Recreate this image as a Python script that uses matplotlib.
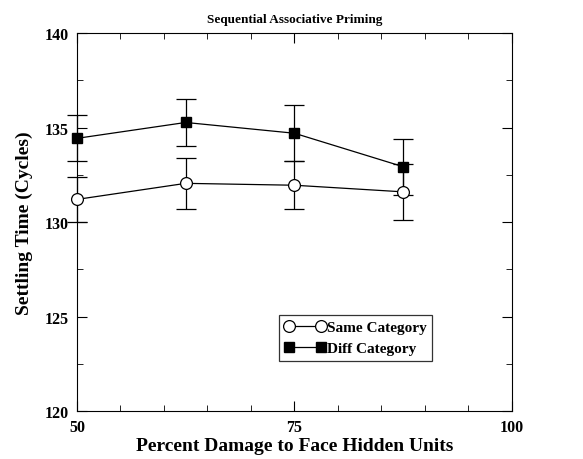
import numpy as np
import matplotlib
matplotlib.use('Agg')
import matplotlib.pyplot as plt
from matplotlib.ticker import MultipleLocator
from matplotlib.lines import Line2D

damage = [50, 62.5, 75, 87.5]
same_mean = [131.2, 132.05, 131.95, 131.6]
same_err = [1.2, 1.34, 1.26, 1.48]
diff_mean = [134.43, 135.27, 134.7, 132.93]
diff_err = [1.22, 1.25, 1.47, 1.48]
labels = ['Same Category', 'Diff Category']

plt.rcParams['font.family'] = ['Liberation Serif', 'DejaVu Serif']
plt.rcParams['font.weight'] = 'bold'

fig = plt.figure(figsize=(5.83, 4.6), dpi=100)
ax = fig.add_axes([0.132, 0.104, 0.746, 0.822])

ax.errorbar(damage, same_mean, yerr=same_err, color='black', lw=0.9,
            marker='o', ms=8.5, mfc='white', mec='black', mew=0.9,
            capsize=7.5, elinewidth=0.9, capthick=0.9, clip_on=False,
            zorder=3)
ax.errorbar(damage, diff_mean, yerr=diff_err, color='black', lw=0.9,
            marker='s', ms=7.5, mfc='black', mec='black',
            capsize=7.5, elinewidth=0.9, capthick=0.9, clip_on=False,
            zorder=3)

ax.set_xlim(50, 100)
ax.set_ylim(120, 140)
ax.set_xticks([50, 75, 100])
ax.set_yticks([120, 125, 130, 135, 140])
ax.xaxis.set_minor_locator(MultipleLocator(5))
ax.yaxis.set_minor_locator(MultipleLocator(2.5))
ax.tick_params(which='both', direction='in', top=True, right=True,
               labelsize=11.5, pad=6)
ax.tick_params(which='major', length=7)
ax.tick_params(which='minor', length=4)
for lbl in ax.get_xticklabels() + ax.get_yticklabels():
    lbl.set_fontweight('bold')

ax.set_title('Sequential Associative Priming', fontsize=9.5,
             fontweight='bold', pad=8)
ax.set_xlabel('Percent Damage to Face Hidden Units', fontsize=14,
              fontweight='bold', labelpad=1)
ax.set_ylabel('Settling Time (Cycles)', fontsize=14, fontweight='bold',
              labelpad=8)

# legend without the error bars
handles = [
    Line2D([], [], color='black', lw=0.9, marker='o', ms=8.5, mfc='white',
           mec='black', mew=0.9),
    Line2D([], [], color='black', lw=0.9, marker='s', ms=7.5, mfc='black',
           mec='black'),
]
leg = ax.legend(handles, labels, loc='upper right',
                bbox_to_anchor=(0.817, 0.254), numpoints=2,
                fancybox=False, edgecolor='black', handlelength=2.7,
                handletextpad=0.1, borderpad=0.35, labelspacing=0.5,
                borderaxespad=0, prop={'weight': 'bold', 'size': 11})
leg.get_frame().set_linewidth(0.9)

fig.savefig('out.png', dpi=100)
